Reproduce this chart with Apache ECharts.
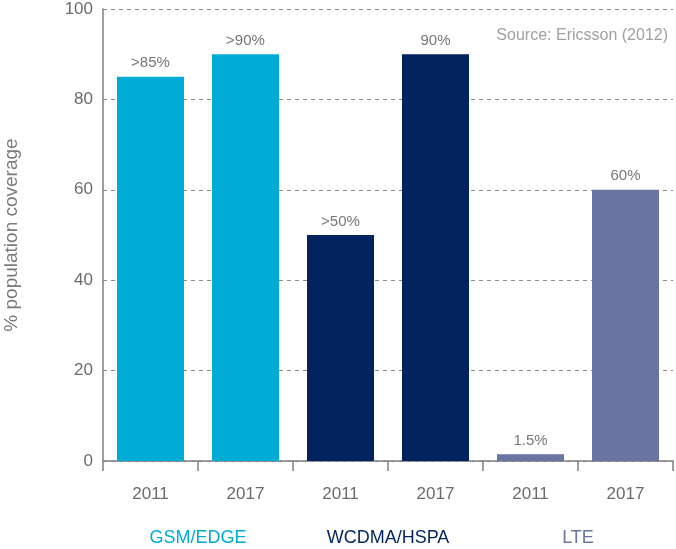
<!DOCTYPE html>
<html>
<head>
<meta charset="utf-8">
<script src="https://cdn.jsdelivr.net/npm/echarts@6/dist/echarts.min.js"></script>
<style>
  html, body { margin: 0; padding: 0; background: #fff; }
  #chart { width: 676px; height: 549px; }
</style>
</head>
<body>
<div id="chart"></div>
<script>
var years = ['2011', '2017', '2011', '2017', '2011', '2017'];
var groups = ['GSM/EDGE', 'WCDMA/HSPA', 'LTE'];
var values = [85, 90, 50, 90, 1.5, 60];
var valueLabels = ['>85%', '>90%', '>50%', '90%', '1.5%', '60%'];
var groupColors = ['#00acd6', '#02235e', '#6a74a1'];

var font = 'Liberation Sans, Arial, sans-serif';

var myChart = echarts.init(document.getElementById('chart'));

var barData = values.map(function (v, i) {
    return {
        value: v,
        itemStyle: { color: groupColors[Math.floor(i / 2)] },
        label: { formatter: valueLabels[i] }
    };
});

var option = {
    backgroundColor: '#fff',
    animation: false,
    textStyle: { fontFamily: font },
    title: {
        text: 'Source: Ericsson (2012)',
        right: 3,
        top: 23,
        textStyle: { color: '#a0a0a0', fontSize: 16, fontWeight: 'normal', fontFamily: font }
    },
    grid: { left: 103, right: 3, top: 9, bottom: 88, outerBoundsMode: 'none', containLabel: false },
    xAxis: [
        {
            type: 'category',
            data: years,
            axisLine: { lineStyle: { color: '#808080', width: 1.5 } },
            axisTick: { show: true, length: 10, lineStyle: { color: '#808080', width: 1.5 } },
            axisLabel: { color: '#6b6b6b', fontSize: 17, margin: 25, fontFamily: font }
        },
        {
            type: 'category',
            position: 'bottom',
            offset: 60,
            data: groups,
            axisLine: { show: false },
            axisTick: { show: false },
            axisLabel: {
                fontSize: 18,
                fontFamily: font,
                color: function (value, index) {
                    return groupColors[groups.indexOf(value)];
                }
            }
        }
    ],
    yAxis: {
        type: 'value',
        min: 0,
        max: 100,
        interval: 20,
        name: '% population coverage',
        nameLocation: 'middle',
        nameGap: 82,
        nameTextStyle: { color: '#7a7a7a', fontSize: 19, fontFamily: font },
        axisLine: { show: true, lineStyle: { color: '#808080', width: 1.5 } },
        axisTick: { show: false },
        axisLabel: { color: '#6b6b6b', fontSize: 17, margin: 10, fontFamily: font },
        splitLine: {
            show: true,
            lineStyle: { color: '#888', type: [4, 4], width: 1 }
        }
    },
    series: [
        {
            type: 'bar',
            xAxisIndex: 0,
            barWidth: 67,
            data: barData,
            label: {
                show: true,
                position: 'top',
                distance: 6,
                color: '#777',
                fontSize: 15,
                fontFamily: font
            }
        }
    ]
};

option && myChart.setOption(option);
</script>
</body>
</html>
